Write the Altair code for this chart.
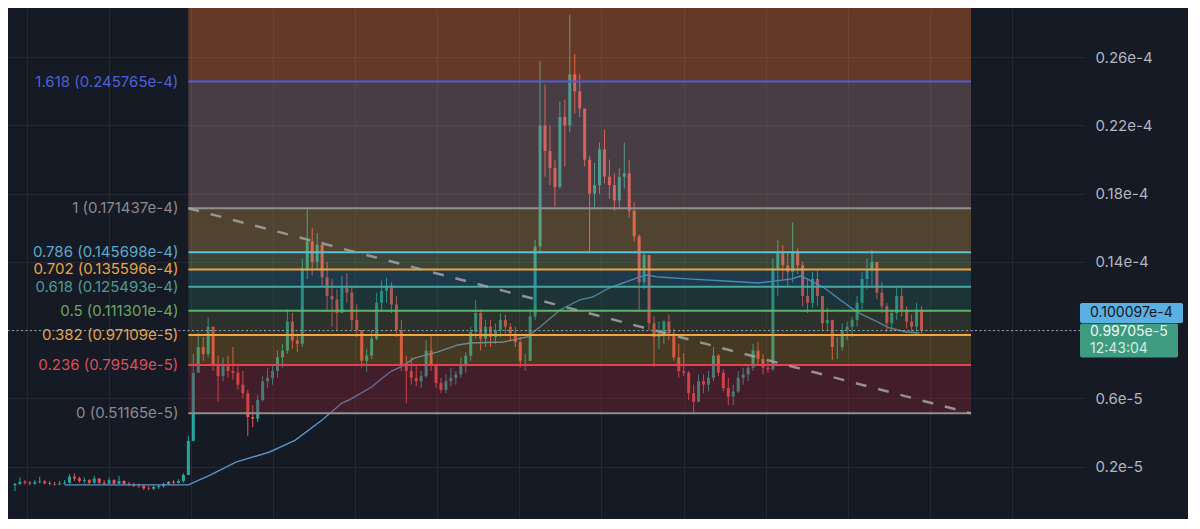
import altair as alt
import pandas as pd

# ---------------- data (prices in units of 1e-6) ----------------
first_open = 0.90
high = [1.05, 1.35, 1.20, 1.15, 1.20, 1.40, 1.20, 1.15, 1.10, 1.15,
        1.20, 1.55, 1.60, 1.40, 1.35, 1.25, 1.45, 1.30, 1.20, 1.35,
        1.25, 1.45, 1.20, 1.10, 1.05, 1.00, 0.95, 0.85, 0.90, 0.95,
        1.05, 1.15, 1.20, 1.25, 1.60, 3.80, 8.60, 9.85, 9.60, 10.75,
        10.20, 8.50, 8.40, 8.50, 9.00, 7.90, 7.60, 6.50, 5.60, 6.20,
        7.30, 7.80, 8.00, 8.80, 9.20, 11.20, 11.00, 9.80, 14.20, 17.10,
        16.00, 15.70, 15.20, 14.00, 13.00, 12.40, 13.20, 13.35, 12.60, 11.50,
        10.00, 8.90, 10.00, 12.20, 12.90, 13.05, 12.80, 12.00, 10.60, 8.50,
        8.40, 7.90, 7.60, 9.40, 9.65, 8.00, 7.20, 7.40, 7.80, 7.60,
        8.40, 8.70, 10.20, 11.75, 11.20, 10.60, 10.60, 10.40, 11.00, 10.90,
        10.40, 10.20, 9.60, 8.60, 11.20, 15.30, 25.80, 24.40, 22.00, 20.00,
        23.40, 23.50, 28.50, 26.20, 25.00, 22.80, 20.20, 19.80, 21.00, 21.75,
        20.00, 19.20, 19.50, 21.00, 20.00, 17.50, 15.60, 14.60, 14.40, 10.80,
        10.50, 10.60, 10.90, 10.10, 9.20, 8.65, 7.60, 6.80, 7.40, 7.40,
        7.60, 9.00, 8.60, 7.70, 7.20, 6.80, 7.60, 7.80, 8.00, 9.20,
        9.30, 8.60, 8.20, 14.20, 15.30, 15.00, 14.60, 16.30, 14.80, 14.00,
        13.00, 13.40, 13.50, 11.80, 11.30, 10.60, 9.60, 10.40, 10.50, 10.80,
        12.00, 13.40, 14.20, 14.70, 13.80, 12.80, 11.60, 11.20, 12.50, 12.60,
        11.40, 10.90, 11.60, 11.40]
low = [0.55, 0.90, 0.95, 0.90, 0.92, 1.00, 0.95, 0.90, 0.88, 0.90,
       0.95, 1.00, 1.15, 1.05, 1.00, 0.95, 1.00, 0.95, 0.90, 0.95,
       0.92, 0.95, 0.90, 0.85, 0.80, 0.75, 0.62, 0.60, 0.62, 0.70,
       0.75, 0.90, 0.95, 1.00, 1.05, 1.50, 3.50, 7.60, 8.20, 8.40,
       7.60, 5.80, 7.00, 7.20, 7.10, 6.50, 6.00, 3.80, 4.30, 4.60,
       5.80, 6.60, 6.80, 7.20, 7.80, 8.60, 8.90, 8.70, 9.00, 13.00,
       13.20, 13.50, 12.60, 11.20, 10.20, 10.00, 11.50, 11.60, 10.00, 9.60,
       7.80, 7.55, 8.30, 9.40, 11.20, 11.60, 11.00, 9.60, 7.60, 5.70,
       6.80, 6.70, 6.60, 7.20, 7.60, 6.60, 6.30, 6.30, 6.70, 6.80,
       7.20, 7.50, 8.20, 9.50, 8.80, 9.00, 9.00, 9.20, 9.60, 9.80,
       9.40, 9.00, 7.80, 7.60, 8.20, 10.60, 14.50, 19.00, 18.50, 17.25,
       18.30, 19.60, 21.60, 22.70, 22.50, 19.60, 14.55, 17.20, 18.00, 18.60,
       17.70, 17.00, 17.20, 18.30, 16.60, 15.20, 11.20, 12.40, 10.00, 7.85,
       8.90, 9.20, 9.40, 8.20, 7.20, 7.30, 5.90, 5.10, 5.80, 6.30,
       6.40, 7.00, 7.30, 6.40, 5.60, 5.60, 6.30, 6.80, 7.00, 7.60,
       8.00, 7.40, 7.50, 7.60, 12.00, 13.00, 12.60, 12.80, 13.30, 11.40,
       11.00, 11.30, 11.40, 10.00, 10.00, 8.25, 8.30, 8.80, 9.40, 9.60,
       10.20, 11.20, 12.40, 12.60, 11.80, 11.00, 9.90, 9.90, 10.60, 10.80,
       10.10, 9.90, 9.80, 9.80]
close = [0.98, 1.10, 1.05, 1.00, 1.08, 1.12, 1.02, 0.98, 0.95, 1.00,
         1.05, 1.40, 1.30, 1.15, 1.20, 1.05, 1.30, 1.05, 1.00, 1.20,
         1.00, 1.15, 0.98, 0.92, 0.88, 0.85, 0.72, 0.70, 0.80, 0.85,
         0.98, 1.10, 1.05, 1.15, 1.50, 3.50, 7.50, 9.00, 8.60, 10.20,
         8.00, 7.30, 8.00, 7.60, 7.50, 6.80, 6.30, 4.90, 4.80, 5.90,
         7.00, 7.20, 7.60, 8.40, 8.80, 10.50, 9.40, 9.20, 13.60, 15.20,
         14.00, 15.00, 13.10, 12.00, 11.80, 11.00, 12.50, 12.20, 10.60, 10.00,
         8.20, 8.50, 9.50, 11.60, 12.30, 12.60, 11.50, 10.00, 8.00, 7.60,
         7.20, 7.00, 7.30, 8.80, 8.00, 6.90, 6.50, 7.00, 7.20, 7.40,
         8.00, 8.50, 9.90, 11.00, 9.50, 10.20, 9.60, 10.00, 10.60, 10.20,
         9.80, 9.30, 8.20, 8.20, 10.80, 14.90, 22.00, 20.50, 19.50, 18.40,
         22.50, 22.00, 25.00, 24.00, 23.00, 20.00, 18.00, 18.50, 20.60, 19.00,
         18.50, 17.60, 19.00, 19.20, 17.00, 15.50, 12.80, 14.40, 10.40, 9.60,
         9.80, 10.50, 9.80, 8.40, 7.60, 7.50, 6.30, 5.80, 7.00, 6.80,
         7.20, 8.50, 7.50, 6.60, 6.10, 6.40, 7.20, 7.40, 7.80, 8.80,
         8.30, 7.80, 7.70, 13.60, 14.50, 13.80, 13.40, 14.60, 13.80, 12.00,
         11.60, 13.00, 12.00, 10.40, 10.60, 9.00, 9.00, 10.00, 10.20, 10.60,
         11.60, 13.00, 13.50, 14.00, 12.20, 11.40, 10.40, 11.00, 12.00, 11.20,
         10.50, 10.20, 11.20, 9.9705]

# moving average, read at sparse candle positions
ma_t = [10, 22, 35, 39.4, 44.6, 51.4, 56.6, 62, 66, 67.4, 72, 74, 76, 78, 80.6,
        85.4, 89.4, 92, 98.6, 103.4, 106, 110, 114, 116.6, 120, 126, 127.4, 130,
        136.6, 143.4, 150, 156.6, 158.6, 160, 163.4, 166.6, 170, 173.4, 176.6,
        180, 182.6]
ma_v = [0.92, 0.92, 0.92, 1.50, 2.26, 2.85, 3.55, 4.73, 5.72, 5.90, 6.66, 7.15,
        7.60, 7.85, 8.36, 8.72, 9.13, 9.24, 9.30, 9.60, 10.18, 11.18, 11.77, 11.94,
        12.47, 13.11, 13.23, 13.11, 12.99, 12.88, 12.76, 12.99, 13.17, 12.99, 12.47,
        11.77, 11.06, 10.59, 10.12, 9.89, 9.83]

# Fibonacci retracement
fib_ratio = [0, 0.236, 0.382, 0.5, 0.618, 0.702, 0.786, 1, 1.618, 2.618]
fib_price = [5.1165, 7.9549, 9.7109, 11.1301, 12.5493, 13.5596, 14.5698,
             17.1437, 24.5765, 36.6036]
fib_label = ["0 (0.51165e-5)", "0.236 (0.79549e-5)", "0.382 (0.97109e-5)",
             "0.5 (0.111301e-4)", "0.618 (0.125493e-4)", "0.702 (0.135596e-4)",
             "0.786 (0.145698e-4)", "1 (0.171437e-4)", "1.618 (0.245765e-4)"]
fib_line_color = ["#8f8f93", "#e2414e", "#f2a53a", "#5fb662", "#47a99f",
                  "#f2a53a", "#5cc0d8", "#8f8f93", "#4a5ee0"]
fib_text_color = ["#8a8a8e", "#d9505b", "#e9a43f", "#6aa862", "#4a9d97",
                  "#e9a43f", "#5aaacb", "#8a8a8e", "#4c60d6"]
band_color = ["#942533", "#9f7522", "#585f39", "#27645b", "#2d758f",
              "#88985b", "#bc9244", "#a58178", "#f8752e"]
fib_start, fib_end = 35, 193

last_price = 9.9705
last_price_text = "0.99705e-5"
countdown_text = "12:43:04"
alert_price = 10.0097
alert_text = "0.100097e-4"

y_ticks = [2, 6, 10, 14, 18, 22, 26]
grid_t = [2.4 + 16.57 * k for k in range(13)]

# ---------------- styling ----------------
BG = "#161a25"
GRID = "#242833"
UP, DOWN = "#26a69a", "#ef5350"
FONT = "Inter"
W, H = 1077, 511
X_MIN, X_MAX = -0.4, 215.0
Y_MIN, Y_MAX = -1.079, 28.891

xs = alt.Scale(domain=[X_MIN, X_MAX], nice=False, zero=False)
ys = alt.Scale(domain=[Y_MIN, Y_MAX], nice=False, zero=False)

x_axis = alt.Axis(values=grid_t, labels=False, ticks=False, domain=False,
                  grid=True, gridColor=GRID, gridWidth=1, title=None)
y_axis = alt.Axis(orient="right", values=y_ticks, ticks=False, domain=False,
                  grid=True, gridColor=GRID, gridWidth=1, title=None,
                  labelPadding=10, labelColor="#b2b5be", labelFont=FONT,
                  labelFontSize=15,
                  labelExpr="datum.value == 10 ? '' : (datum.value < 10 ? '0.' + datum.value + 'e-5' : '0.' + datum.value + 'e-4')")


def X(field):
    return alt.X(field, scale=xs, axis=x_axis)


def Y(field):
    return alt.Y(field, scale=ys, axis=y_axis)


n = len(close)
opens = [first_open] + close[:-1]
candles = pd.DataFrame({"t": list(range(n)), "open": opens, "high": high,
                        "low": low, "close": close})
candles["col"] = [UP if c >= o else DOWN for o, c in zip(opens, close)]

wicks = alt.Chart(candles).mark_rule(strokeWidth=1, clip=True).encode(
    x=X("t:Q"), y=Y("low:Q"), y2="high:Q",
    color=alt.Color("col:N", scale=None))
bodies = alt.Chart(candles).mark_bar(width=3, clip=True).encode(
    x=X("t:Q"), y=Y("open:Q"), y2="close:Q",
    color=alt.Color("col:N", scale=None))

ma = pd.DataFrame({"t": ma_t, "v": ma_v})
ma_line = alt.Chart(ma).mark_line(color="#5b93c7", strokeWidth=1.4, clip=True).encode(
    x=X("t:Q"), y=Y("v:Q"))

bands = pd.DataFrame({"lo": fib_price[:-1], "hi": fib_price[1:], "col": band_color,
                      "x1": fib_start, "x2": fib_end})
band_layer = alt.Chart(bands).mark_rect(opacity=0.35, clip=True).encode(
    x=X("x1:Q"), x2="x2:Q", y=Y("lo:Q"), y2="hi:Q",
    color=alt.Color("col:N", scale=None))

levels = pd.DataFrame({"ratio": fib_ratio[:-1], "price": fib_price[:-1],
                       "label": fib_label, "col": fib_line_color,
                       "tcol": fib_text_color,
                       "x1": fib_start, "x2": fib_end})
level_lines = alt.Chart(levels).mark_rule(strokeWidth=2).encode(
    x=X("x1:Q"), x2="x2:Q", y=Y("price:Q"),
    color=alt.Color("col:N", scale=None))
level_labels = alt.Chart(levels).mark_text(
    align="right", baseline="middle", dx=-10, font=FONT, fontSize=15).encode(
    x=X("x1:Q"), y=Y("price:Q"), text="label:N",
    color=alt.Color("tcol:N", scale=None))

trend = pd.DataFrame({"t": [fib_start, fib_end], "p": [fib_price[7], fib_price[0]]})
trend_line = alt.Chart(trend).mark_line(
    strokeDash=[11, 12], strokeWidth=2.5, color="#a3a3a3", opacity=0.85).encode(
    x=X("t:Q"), y=Y("p:Q"))

price_df = pd.DataFrame({"p": [last_price], "a": [alert_price], "x": [X_MAX],
                         "txt": [last_price_text], "cd": [countdown_text],
                         "atxt": [alert_text]})
price_line = alt.Chart(price_df).mark_rule(
    color="#9ba1ad", strokeDash=[2, 2.5], strokeWidth=1).encode(y=Y("p:Q"))

blue_badge = alt.Chart(price_df).mark_rect(
    color="#5aafe3", yOffset=-27, y2Offset=-7, x2Offset=103, cornerRadius=2).encode(
    x=X("x:Q"), x2="x:Q", y=Y("a:Q"), y2="a:Q")
blue_text = alt.Chart(price_df).mark_text(
    align="left", baseline="middle", dx=10, dy=-17, color="#131722",
    font=FONT, fontSize=14).encode(x=X("x:Q"), y=Y("a:Q"), text="atxt:N")
green_badge = alt.Chart(price_df).mark_rect(
    color="#3f9b80", yOffset=-7, y2Offset=27, x2Offset=98, cornerRadius=2).encode(
    x=X("x:Q"), x2="x:Q", y=Y("p:Q"), y2="p:Q")
green_text = alt.Chart(price_df).mark_text(
    align="left", baseline="middle", dx=10, dy=1, color="#eef8f4",
    font=FONT, fontSize=14).encode(x=X("x:Q"), y=Y("p:Q"), text="txt:N")
cd_text = alt.Chart(price_df).mark_text(
    align="left", baseline="middle", dx=10, dy=18, color="#cdeee2",
    font=FONT, fontSize=14).encode(x=X("x:Q"), y=Y("p:Q"), text="cd:N")

chart = alt.layer(
    wicks, bodies, ma_line, band_layer, level_lines, trend_line, level_labels,
    price_line, blue_badge, blue_text, green_badge, green_text, cd_text
).properties(
    width=W, height=H, background=BG,
    padding={"left": 0, "top": 0, "right": 103, "bottom": 0},
    autosize=alt.AutoSizeParams(type="none"),
).configure_view(strokeWidth=0)

chart.save("out.html", embed_options={"renderer": "svg", "actions": False})
